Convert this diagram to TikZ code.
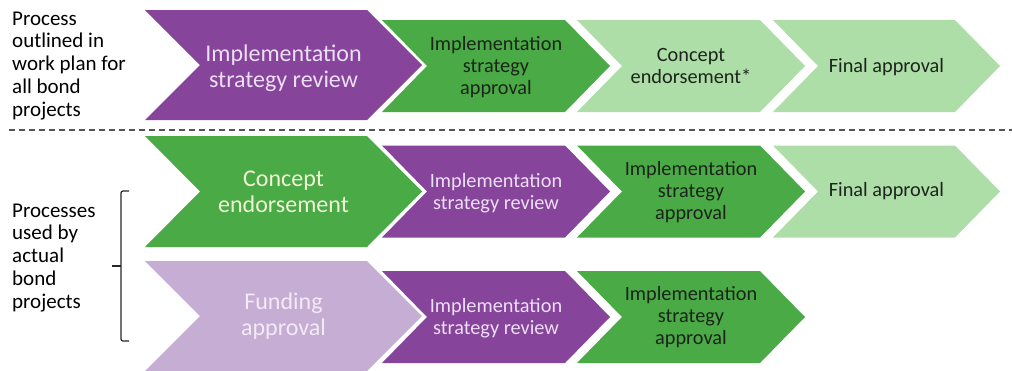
\documentclass[tikz,border=0pt]{standalone}
\usepackage{fontspec}
\setmainfont{Carlito}
\definecolor{cpurple}{RGB}{134,69,155}
\definecolor{cgreen}{RGB}{74,170,69}
\definecolor{clgreen}{RGB}{173,222,168}
\definecolor{clpurple}{RGB}{198,173,212}
\definecolor{tlav}{RGB}{236,222,244}
\definecolor{tyel}{RGB}{240,244,214}
\definecolor{tpale}{RGB}{242,234,246}
\definecolor{tdark}{RGB}{28,36,28}
\definecolor{dashgray}{RGB}{85,85,85}
\newcommand\chevshape[6]{%
  \fill[#6] (#1,#2) -- ++(#3-#5,0) -- ++(#5,#4/2) -- ++(-#5,#4/2)
    -- ++(-#3+#5,0) -- ++(#5,-#4/2) -- cycle;}
\tikzset{
  bigtxt/.style={align=center,inner sep=0pt,font=\fontsize{24}{26}\selectfont},
  smalltxt/.style={align=center,inner sep=0pt,font=\fontsize{20.3}{22}\selectfont},
  sidetxt/.style={align=left,inner sep=0pt,anchor=north west,font=\fontsize{21}{22.8}\selectfont},
}
\begin{document}
\begin{tikzpicture}[x=1pt,y=-1pt]
\useasboundingbox (0,0) rectangle (1012,370);
% row 1
\chevshape{145}{10}{277}{110}{55}{cpurple}
\chevshape{382}{20}{228}{92}{45}{cgreen}
\chevshape{577}{20}{228}{92}{45}{clgreen}
\chevshape{773}{20}{227}{92}{45}{clgreen}
\node[bigtxt,text=tlav] (r1a) at (283.5,68) {Implementation\\strategy review};
\node[smalltxt,text=tdark] (r1b) at (496,67.5) {Implementation\\strategy\\approval};
\node[smalltxt,text=tdark] (r1c) at (691,66) {Concept\\endorsement*};
\node[smalltxt,text=tdark] (r1d) at (886.5,67) {Final approval};
% row 2
\chevshape{145}{136}{277}{111}{55}{cgreen}
\chevshape{382}{145.5}{228}{92}{45}{cpurple}
\chevshape{577}{145.5}{228}{92}{45}{cgreen}
\chevshape{773}{145.5}{227}{92}{45}{clgreen}
\node[bigtxt,text=tyel] (r2a) at (283.5,192) {Concept\\endorsement};
\node[smalltxt,text=tlav] (r2b) at (496,193) {Implementation\\strategy review};
\node[smalltxt,text=tdark] (r2c) at (691,192) {Implementation\\strategy\\approval};
\node[smalltxt,text=tdark] (r2d) at (886.5,191.5) {Final approval};
% row 3
\chevshape{145}{261}{277}{110}{55}{clpurple}
\chevshape{382}{271}{228}{92}{45}{cpurple}
\chevshape{577}{271}{228}{92}{45}{cgreen}
\node[bigtxt,text=tpale] (r3a) at (283.5,316.5) {Funding\\approval};
\node[smalltxt,text=tlav] (r3b) at (496,318) {Implementation\\strategy review};
\node[smalltxt,text=tdark] (r3c) at (691,317) {Implementation\\strategy\\approval};
% divider
\coordinate (dl) at (9,130);
\coordinate (dr) at (1012,130);
\draw[dashgray,line width=2pt,dash pattern=on 6pt off 4pt] (dl) -- (dr);
% side texts
\node[sidetxt] (s1) at (12,11.5) {Process\\outlined in\\work plan for\\all bond\\projects};
\node[sidetxt] (s2) at (12,203.5) {Processes\\used by\\actual\\bond\\projects};
% bracket
\coordinate (bt) at (129,191);
\coordinate (bb) at (129,341);
\coordinate (bm) at (121,266);
\coordinate (bmt) at (112,266);
\draw[black!85,line width=1.2pt,rounded corners=2pt] (bt) -- (121,191) -- (121,341) -- (bb);
\draw[black!85,line width=1.2pt] (bm) -- (bmt);
\end{tikzpicture}
\end{document}
